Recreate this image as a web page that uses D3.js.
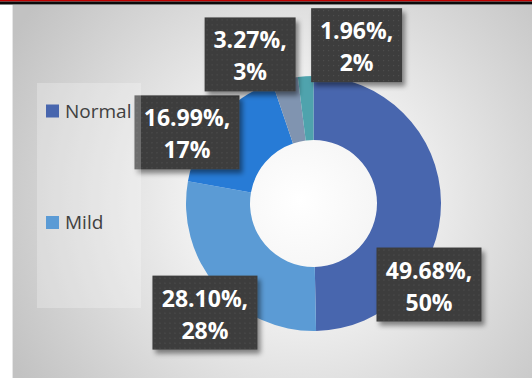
<!DOCTYPE html>
<html>
<head>
<meta charset="utf-8">
<script src="https://cdn.jsdelivr.net/npm/d3@7"></script>
<style>
html,body{margin:0;padding:0;background:#fff;}
svg{display:block;}
</style>
</head>
<body>
<svg id="chart" width="532" height="378"></svg>
<script>
// ---- data ----
const categories = ["Normal", "Mild", "Moderate", "Severe", "Very severe"];
const percents = [49.68, 28.10, 16.99, 3.27, 1.96];
const rounded = ["50%", "28%", "17%", "3%", "2%"];
const colors = ["#4866ae", "#5b9bd5", "#277bd6", "#8094b0", "#4fa3ad"];
const legendShown = ["Normal", "Mild"];
// label box offsets from each slice centroid (manual placement like the source)
const labelOffsets = [[20, 82], [-36, 47], [-54, -9], [-42, -56], [49, -63]];

const W = 532, H = 378;
const svg = d3.select("#chart");
const defs = svg.append("defs");

// background gradient
const rg = defs.append("radialGradient").attr("id", "bg")
  .attr("gradientUnits", "userSpaceOnUse")
  .attr("cx", 300).attr("cy", 200).attr("r", 330);
rg.append("stop").attr("offset", 0).attr("stop-color", "#ffffff");
rg.append("stop").attr("offset", 0.3).attr("stop-color", "#f3f3f3");
rg.append("stop").attr("offset", 1).attr("stop-color", "#c2c2c2");

// dot pattern for labels
const pat = defs.append("pattern").attr("id", "dots")
  .attr("patternUnits", "userSpaceOnUse").attr("width", 5).attr("height", 5);
pat.append("rect").attr("width", 5).attr("height", 5).attr("fill", "#3d3d3d");
pat.append("rect").attr("x", 2).attr("y", 2).attr("width", 1).attr("height", 1).attr("fill", "#555555");

const flt = defs.append("filter").attr("id", "shadow")
  .attr("x", "-20%").attr("y", "-20%").attr("width", "150%").attr("height", "150%");
flt.append("feDropShadow").attr("dx", 3).attr("dy", 4).attr("stdDeviation", 2.5)
  .attr("flood-color", "#000").attr("flood-opacity", 0.45);

// top bars
svg.append("rect").attr("x", 0).attr("y", 0).attr("width", W).attr("height", 1.5).attr("fill", "#c00000");
svg.append("rect").attr("x", 0).attr("y", 1.5).attr("width", W).attr("height", 3).attr("fill", "#0a0a0a");

// chart area
svg.append("rect").attr("x", 12).attr("y", 5).attr("width", W - 12).attr("height", H - 5).attr("fill", "url(#bg)");
svg.append("rect").attr("x", 12).attr("y", 5).attr("width", 1).attr("height", H - 5).attr("fill", "#e6e6e6");

// donut
const cx = 313.5, cy = 203.5, rOuter = 127.5, rInner = 63.5;
const pie = d3.pie().sort(null).value(d => d);
const arcs = pie(percents);
const arc = d3.arc().innerRadius(rInner).outerRadius(rOuter);
const g = svg.append("g").attr("transform", `translate(${cx},${cy})`);
g.selectAll("path").data(arcs).join("path")
  .attr("d", arc).attr("fill", (d, i) => colors[i]);

// labels
const fmt = d3.format(".2f");
const boxH = 74;
arcs.forEach((d, i) => {
  const [mx, my] = arc.centroid(d);
  const bxC = cx + mx + labelOffsets[i][0];
  const byC = cy + my + labelOffsets[i][1];
  const line1 = fmt(percents[i]) + "%,";
  const bw = line1.length >= 7 ? 105 : 91;
  const lg = svg.append("g").attr("transform", `translate(${bxC - bw / 2},${byC - boxH / 2})`);
  lg.append("rect").attr("width", bw).attr("height", boxH)
    .attr("fill", "url(#dots)").attr("filter", "url(#shadow)");
  const t = lg.append("text").attr("text-anchor", "middle")
    .attr("font-family", "'Open Sans', 'Noto Sans', sans-serif")
    .attr("font-weight", "bold").attr("font-size", 23).attr("fill", "#ffffff");
  t.append("tspan").attr("x", bw / 2).attr("y", 31).text(line1);
  t.append("tspan").attr("x", bw / 2).attr("y", 63).text(rounded[i]);
});

// legend panel (semi-transparent, drawn over label edge)
svg.append("rect").attr("x", 37).attr("y", 83).attr("width", 104).attr("height", 225)
  .attr("fill", "#ffffff").attr("fill-opacity", 0.25);
const legY = [104.5, 216];
legendShown.forEach((name, k) => {
  const i = categories.indexOf(name);
  svg.append("rect").attr("x", 46).attr("y", legY[k]).attr("width", 13).attr("height", 13)
    .attr("fill", colors[i]);
  svg.append("text").attr("x", 65).attr("y", legY[k] + 13)
    .attr("font-family", "'Open Sans', 'Noto Sans', sans-serif")
    .attr("font-size", 19).attr("fill", "#404040").text(name);
});
</script>
</body>
</html>
